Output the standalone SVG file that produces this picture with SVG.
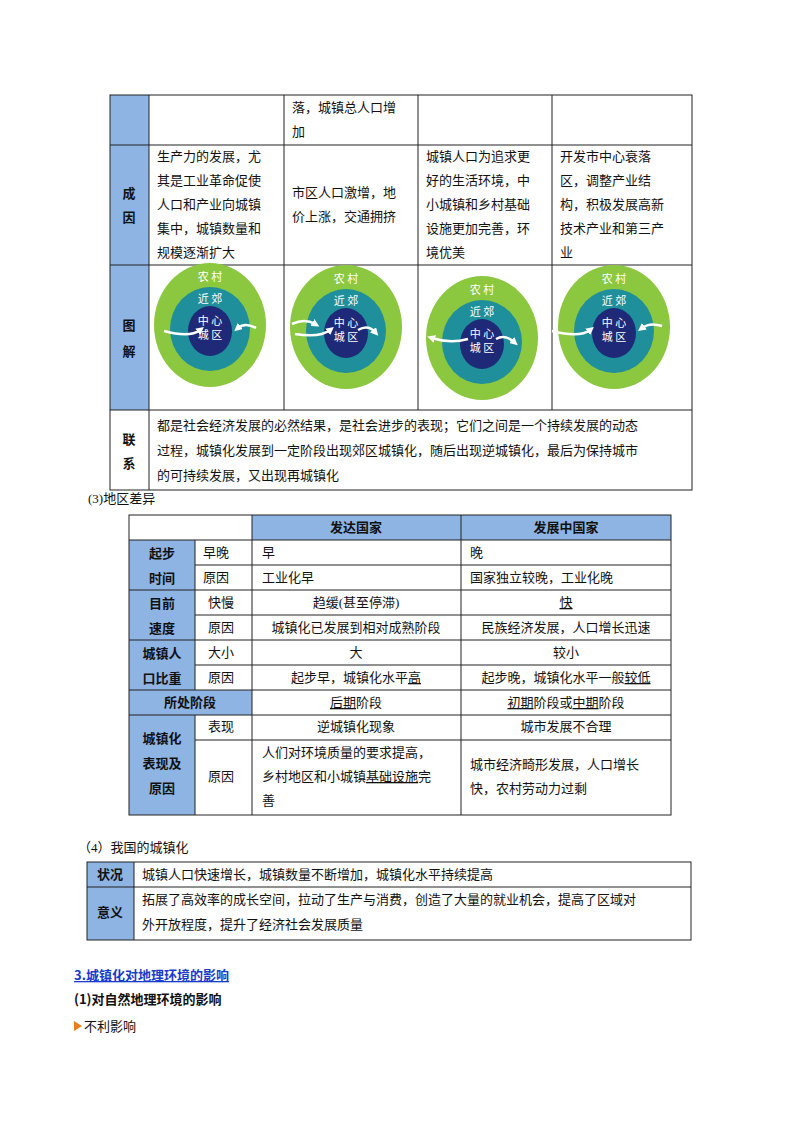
<svg xmlns="http://www.w3.org/2000/svg" width="800" height="1132" viewBox="0 0 800 1132">
<style>
text{font-family:"Liberation Serif","Noto Sans CJK SC",serif;font-size:13px;fill:#111}
.b{font-weight:bold;font-family:"Noto Sans CJK SC",sans-serif}
.c{text-anchor:middle}
.ln{stroke:#222;stroke-width:1;fill:none}
.hd{fill:#8eb4e3}
.o{fill:#8cc83f}.m{fill:#1f8f9c}.i{fill:#1e2a78}
.w{fill:#fff;font-size:11px;font-family:"Noto Sans CJK SC",sans-serif}
.ar{stroke:#fff;stroke-width:2.5;fill:none;marker-end:url(#a)}
</style>
<defs><marker id="a" markerUnits="userSpaceOnUse" markerWidth="8" markerHeight="8" refX="3" refY="4" orient="auto"><path d="M0,0L8,4L0,8z" fill="#fff"/></marker>
<g id="ring"><ellipse rx="56" ry="62" class="o"/><ellipse rx="40" ry="42" class="m" cy="4"/><ellipse rx="22" ry="25" class="i" cy="6"/>
<text class="w c" y="-44">农 村</text><text class="w c" y="-22">近 郊</text><text class="w c" y="0">中 心</text><text class="w c" y="14">城 区</text></g></defs>
<g id="table1">
<rect x="110" y="95" width="39" height="315" class="hd"/>
<rect x="110" y="95" width="582" height="395" class="ln"/>
<path class="ln" d="M149 95V410M284 95V410M418 95V410M552 95V410M110 145H692M110 265H692M110 410H692M149 410V490"/>
<text x="292" y="112">落，城镇总人口增</text><text x="292" y="136">加</text>
<text class="b c" x="129" y="198">成</text><text class="b c" x="129" y="222">因</text>
<text x="157" y="161">生产力的发展，尤</text><text x="157" y="185">其是工业革命促使</text><text x="157" y="209">人口和产业向城镇</text><text x="157" y="233">集中，城镇数量和</text><text x="157" y="257">规模逐渐扩大</text>
<text x="292" y="197">市区人口激增，地</text><text x="292" y="221">价上涨，交通拥挤</text>
<text x="426" y="161">城镇人口为追求更</text><text x="426" y="185">好的生活环境，中</text><text x="426" y="209">小城镇和乡村基础</text><text x="426" y="233">设施更加完善，环</text><text x="426" y="257">境优美</text>
<text x="560" y="161">开发市中心衰落</text><text x="560" y="185">区，调整产业结</text><text x="560" y="209">构，积极发展高新</text><text x="560" y="233">技术产业和第三产</text><text x="560" y="257">业</text>
<text class="b c" x="129" y="330">图</text><text class="b c" x="129" y="356">解</text>
<text class="b c" x="129" y="444">联</text><text class="b c" x="129" y="468">系</text>
<text x="157" y="430">都是社会经济发展的必然结果，是社会进步的表现；它们之间是一个持续发展的动态</text>
<text x="157" y="455">过程，城镇化发展到一定阶段出现郊区城镇化，随后出现逆城镇化，最后为保持城市</text>
<text x="157" y="480">的可持续发展，又出现再城镇化</text>
</g>
<g id="diagrams">
<use href="#ring" x="210" y="325"/><use href="#ring" x="346" y="327"/><use href="#ring" x="482" y="338"/><use href="#ring" x="614" y="327"/>
</g>
<g id="connectors">
<path class="ar" d="M164 331Q190 338 200 330"/><path class="ar" d="M256 328Q245 322 238 328"/>
<path class="ar" d="M292 324Q305 318 315 324"/><path class="ar" d="M295 334Q320 338 330 330"/><path class="ar" d="M358 330Q368 324 375 332"/>
<path class="ar" d="M468 339Q450 344 432 338"/><path class="ar" d="M496 339Q505 334 514 342"/>
<path class="ar" d="M552 331Q580 338 590 330"/><path class="ar" d="M662 326Q650 322 642 328"/>
</g>
<text x="88" y="503">(3)地区差异</text>
<g id="table2">
<rect x="252" y="515" width="419" height="25" class="hd"/>
<rect x="129" y="540" width="66" height="150" class="hd"/><rect x="129" y="690" width="123" height="25" class="hd"/><rect x="129" y="715" width="66" height="100" class="hd"/>
<rect x="129" y="515" width="542" height="300" class="ln"/>
<path class="ln" d="M129 540H671M195 565H671M129 590H671M195 615H671M129 640H671M195 665H671M129 690H671M129 715H671M195 740H671M195 540V690M195 715V815M252 515V815M461 515V815"/>
<text class="b c" x="356" y="532">发达国家</text><text class="b c" x="566" y="532">发展中国家</text>
<text class="b c" x="162" y="558">起步</text><text class="b c" x="162" y="583">时间</text>
<text x="203" y="557">早晚</text><text x="262" y="557">早</text><text x="470" y="557">晚</text>
<text x="203" y="582">原因</text><text x="262" y="582">工业化早</text><text x="470" y="582">国家独立较晚，工业化晚</text>
<text class="b c" x="162" y="608">目前</text><text class="b c" x="162" y="633">速度</text>
<text x="208" y="607">快慢</text><text class="c" x="356" y="607">趋缓(甚至停滞)</text><text class="c" x="566" y="607" text-decoration="underline">快</text>
<text x="208" y="632">原因</text><text class="c" x="356" y="632">城镇化已发展到相对成熟阶段</text><text class="c" x="566" y="632">民族经济发展，人口增长迅速</text>
<text class="b c" x="162" y="658">城镇人</text><text class="b c" x="162" y="683">口比重</text>
<text x="208" y="657">大小</text><text class="c" x="356" y="657">大</text><text class="c" x="566" y="657">较小</text>
<text x="208" y="682">原因</text><text class="c" x="356" y="682">起步早，城镇化水平<tspan text-decoration="underline">高</tspan></text><text class="c" x="566" y="682">起步晚，城镇化水平一般<tspan text-decoration="underline">较低</tspan></text>
<text class="b c" x="190" y="707">所处阶段</text>
<text class="c" x="356" y="707"><tspan text-decoration="underline">后期</tspan>阶段</text><text class="c" x="566" y="707"><tspan text-decoration="underline">初期</tspan>阶段或<tspan text-decoration="underline">中期</tspan>阶段</text>
<text class="b c" x="162" y="743">城镇化</text><text class="b c" x="162" y="768">表现及</text><text class="b c" x="162" y="793">原因</text>
<text x="208" y="731">表现</text><text class="c" x="356" y="731">逆城镇化现象</text><text class="c" x="566" y="731">城市发展不合理</text>
<text x="208" y="781">原因</text>
<text x="262" y="757">人们对环境质量的要求提高，</text><text x="262" y="781">乡村地区和小城镇<tspan text-decoration="underline">基础设施</tspan>完</text><text x="262" y="805">善</text>
<text x="470" y="769">城市经济畸形发展，人口增长</text><text x="470" y="793">快，农村劳动力过剩</text>
</g>
<text x="78" y="852">（4）我国的城镇化</text>
<g id="table3">
<rect x="87" y="862" width="47" height="78" class="hd"/>
<rect x="87" y="862" width="604" height="78" class="ln"/>
<path class="ln" d="M87 887H691M134 862V940"/>
<text class="b c" x="110" y="879">状况</text><text x="142" y="879">城镇人口快速增长，城镇数量不断增加，城镇化水平持续提高</text>
<text class="b c" x="110" y="917">意义</text><text x="142" y="904">拓展了高效率的成长空间，拉动了生产与消费，创造了大量的就业机会，提高了区域对</text><text x="142" y="929">外开放程度，提升了经济社会发展质量</text>
</g>
<text class="b" x="74" y="980" style="fill:#1a3ccc" text-decoration="underline">3.城镇化对地理环境的影响</text>
<text class="b" x="74" y="1004">(1)对自然地理环境的影响</text>
<path d="M74 1021L82 1026L74 1031z" fill="#e8801a"/>
<text x="84" y="1031">不利影响</text>
</svg>
